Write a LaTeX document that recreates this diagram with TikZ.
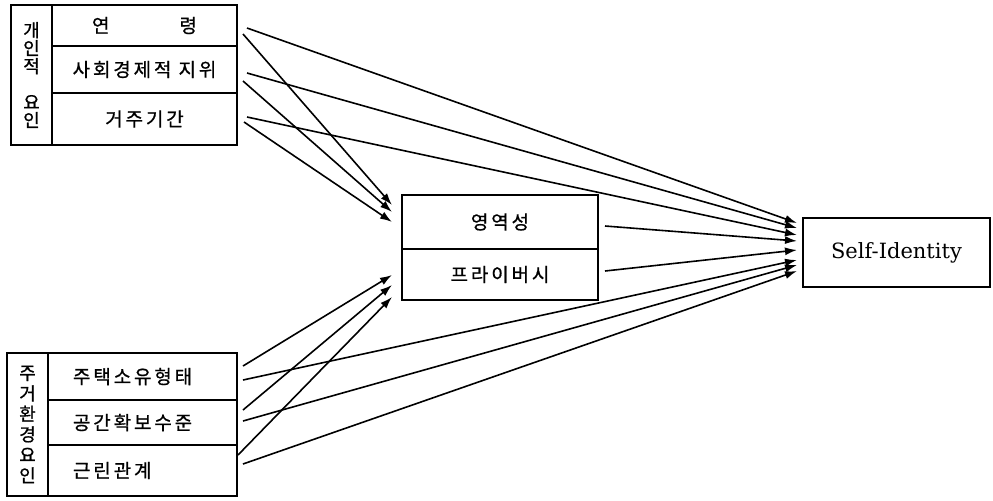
\documentclass[tikz,border=0pt]{standalone}
\usepackage{fontspec}
\newfontfamily\kr[FakeBold=0.8,LetterSpace=15]{Noto Sans CJK KR}
\newfontfamily\idfont{DejaVu Serif}
\usetikzlibrary{arrows.meta,positioning}

\begin{document}
\begin{tikzpicture}[
  x=0.5pt, y=-0.5pt,
  node distance=0pt,
  cell/.style={draw, line width=0.8pt, outer sep=0pt, inner sep=0pt, font=\kr\fontsize{9.5}{11}\selectfont},
  side/.style={cell, minimum width=20.5pt, align=center},
  leftrow/.style={cell, inner xsep=12.5pt, text width=69.5pt, align=left},
  arr/.style={-{Latex[length=6pt,width=4pt]}, line width=0.8pt}
]
\useasboundingbox (0,0) rectangle (993,500);

% personal factors
\node[side, anchor=north west, minimum height=70pt, font=\kr\fontsize{9}{9}\selectfont] (personal) at (11,5) {개\\인\\적\\[9pt]요\\인};
\node[cell, anchor=north west, minimum width=92.5pt, minimum height=20.5pt] (age) at (personal.north east) {연\hspace{35pt}령};
\node[cell, below=of age, minimum width=92.5pt, minimum height=23.5pt] (status) {사회경제적 지위};
\node[cell, below=of status, minimum width=92.5pt, minimum height=26pt] (stay) {거주기간};

% housing factors
\node[side, anchor=north west, minimum height=71.5pt, font=\kr\fontsize{9}{10.25}\selectfont] (housing) at (7,353) {주\\거\\환\\경\\요\\인};
\node[leftrow, anchor=north west, minimum height=23.5pt] (tenure) at (housing.north east) {주택소유형태};
\node[leftrow, below=of tenure, minimum height=22.5pt] (space) {공간확보수준};
\node[leftrow, below=of space, minimum height=25.5pt] (neigh) {근린관계};

% mediators and outcome
\node[cell, anchor=north west, minimum width=98pt, minimum height=27pt] (terr) at (402,195) {영역성};
\node[cell, below=of terr, minimum width=98pt, minimum height=25.5pt] (priv) {프라이버시};
\node[cell, anchor=north west, minimum width=93.5pt, minimum height=34.5pt, font=\idfont\fontsize{10.5}{13}\selectfont] (ident) at (803,218) {Self-Identity};

% to the mediators
\draw[arr] ([shift={(6,8.5)}]age.east) -- ([shift={(-10,-17)}]terr.west);
\draw[arr] ([shift={(6,11.5)}]status.east) -- ([shift={(-10,-10)}]terr.west);
\draw[arr] ([shift={(7,3)}]stay.east) -- ([shift={(-10,0)}]terr.west);
\draw[arr] ([shift={(6,-10.5)}]tenure.east) -- ([shift={(-10,0.5)}]priv.west);
\draw[arr] ([shift={(6,-12.5)}]space.east) -- ([shift={(-10,10.5)}]priv.west);
\draw[arr] ([shift={(1,-15.5)}]neigh.east) -- ([shift={(-10,22.5)}]priv.west);

% to self-identity
\draw[arr] ([shift={(10,2.5)}]age.east) -- ([shift={(-6,-29.5)}]ident.west);
\draw[arr] ([shift={(10,3.5)}]status.east) -- ([shift={(-6,-24.5)}]ident.west);
\draw[arr] ([shift={(10,-2)}]stay.east) -- ([shift={(-6,-17.5)}]ident.west);
\draw[arr] ([shift={(7,4)}]terr.east) -- ([shift={(-6,-11.5)}]ident.west);
\draw[arr] ([shift={(7,-3.5)}]priv.east) -- ([shift={(-6,-2.5)}]ident.west);
\draw[arr] ([shift={(6,3.5)}]tenure.east) -- ([shift={(-6,7.5)}]ident.west);
\draw[arr] ([shift={(6,-1.5)}]space.east) -- ([shift={(-6,12.5)}]ident.west);
\draw[arr] ([shift={(6,-6.5)}]neigh.east) -- ([shift={(-6,18.5)}]ident.west);
\end{tikzpicture}
\end{document}
